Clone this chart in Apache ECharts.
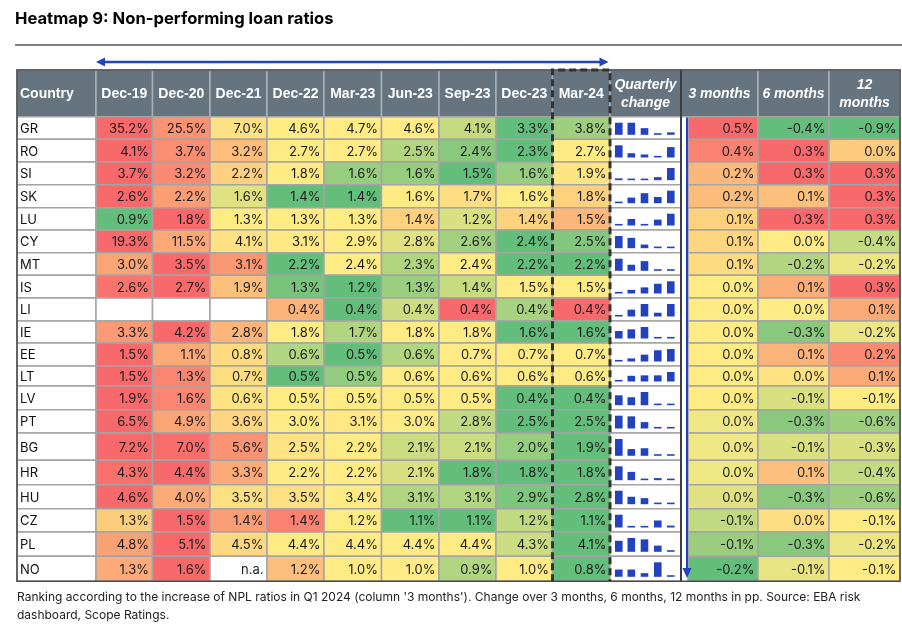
<!DOCTYPE html>
<html><head><meta charset="utf-8">
<script src="https://cdn.jsdelivr.net/npm/echarts@6/dist/echarts.min.js"></script>
<style>html,body{margin:0;padding:0;background:#fff}#c{width:902px;height:628px}</style>
</head><body><div id="c"></div>
<script>
// ---------------- DATA ----------------
const countries = ['GR','RO','SI','SK','LU','CY','MT','IS','LI','IE','EE','LT','LV','PT','BG','HR','HU','CZ','PL','NO'];
const periods = ['Dec-19','Dec-20','Dec-21','Dec-22','Mar-23','Jun-23','Sep-23','Dec-23','Mar-24'];
const dec19 = [35.2, 4.1, 3.7, 2.6, 0.9, 19.3, 3.0, 2.6, null, 3.3, 1.5, 1.5, 1.9, 6.5, 7.2, 4.3, 4.6, 1.27, 4.8, 1.3];
const dec20 = [25.5, 3.7, 3.2, 2.2, 1.8, 11.5, 3.5, 2.7, null, 4.2, 1.1, 1.3, 1.6, 4.9, 7.0, 4.4, 4.0, 1.5, 5.1, 1.6];
const dec21 = [7.0, 3.2, 2.2, 1.56, 1.3, 4.1, 3.1, 1.9, null, 2.8, 0.8, 0.7, 0.6, 3.6, 5.6, 3.3, 3.5, 1.38, 4.5, 'n.a.'];
const dec22 = [4.6, 2.7, 1.8, 1.4, 1.3, 3.1, 2.2, 1.26, 0.42, 1.8, 0.6, 0.5, 0.5, 3.0, 2.5, 2.2, 3.5, 1.44, 4.4, 1.2];
const mar23 = [4.7, 2.7, 1.6, 1.4, 1.3, 2.9, 2.4, 1.22, 0.36, 1.7, 0.5, 0.53, 0.5, 3.1, 2.2, 2.2, 3.4, 1.2, 4.4, 1.0];
const jun23 = [4.6, 2.5, 1.6, 1.6, 1.4, 2.8, 2.3, 1.32, 0.39, 1.8, 0.6, 0.6, 0.5, 3.0, 2.1, 2.1, 3.1, 1.1, 4.4, 1.0];
const sep23 = [4.1, 2.4, 1.5, 1.7, 1.2, 2.6, 2.4, 1.4, 0.44, 1.8, 0.7, 0.6, 0.5, 2.8, 2.1, 1.8, 3.1, 1.1, 4.4, 0.9];
const dec23 = [3.3, 2.3, 1.6, 1.6, 1.4, 2.4, 2.2, 1.5, 0.38, 1.6, 0.7, 0.6, 0.4, 2.5, 2.0, 1.8, 2.9, 1.16, 4.3, 1.0];
const mar24 = [3.8, 2.7, 1.9, 1.8, 1.5, 2.5, 2.2, 1.5, 0.44, 1.6, 0.7, 0.6, 0.4, 2.5, 1.9, 1.8, 2.8, 1.1, 4.1, 0.8];
// change in pp
const change3m  = [0.5, 0.4, 0.2, 0.18, 0.1, 0.08, 0.06, 0.0, 0.0, 0.0, 0.0, 0.0, 0.0, -0.02, -0.02, -0.02, -0.04, -0.08, -0.13, -0.2];
const change6m  = [-0.4, 0.3, 0.3, 0.1, 0.3, 0.0, -0.2, 0.14, 0.0, -0.3, 0.13, 0.02, -0.1, -0.3, -0.1, 0.1, -0.3, 0.03, -0.3, -0.06];
const change12m = [-0.9, 0.0, 0.3, 0.3, 0.3, -0.4, -0.2, 0.3, 0.1, -0.2, 0.2, 0.1, -0.1, -0.6, -0.3, -0.4, -0.6, -0.1, -0.2, -0.1];
const changeLabels = ['3 months', '6 months', '12\nmonths'];
// quarterly change sparkline (relative bar heights)
const quarterlyChange = [
  [1, 1, 0.55, 0.04, 0.2],
  [1, 0.35, 0.25, 0.04, 0.85],
  [0.15, 0.04, 0.04, 0.25, 1],
  [0.05, 0.45, 0.8, 0.5, 1],
  [0.12, 0.55, 0.04, 0.5, 1],
  [1, 0.85, 0.3, 0.04, 0.12],
  [1, 0.5, 0.8, 0.08, 0.12],
  [0.05, 0.3, 0.5, 0.8, 1],
  [0.04, 0.55, 1, 0.3, 1],
  [0.65, 0.8, 1, 0.04, 0.04],
  [0.05, 0.25, 0.55, 0.9, 1],
  [0.05, 0.6, 0.65, 0.65, 1],
  [0.75, 0.6, 1, 0.04, 0.08],
  [1, 0.95, 0.5, 0.04, 0.04],
  [1, 0.4, 0.45, 0.04, 0.04],
  [1, 0.6, 0.04, 0.15, 0.04],
  [1, 0.55, 0.45, 0.04, 0.04],
  [1, 0.04, 0.04, 0.55, 0.15],
  [0.8, 1, 0.9, 0.45, 0.04],
  [0.5, 0.5, 0.25, 1, 0.04]
];
const titleText = 'Heatmap 9: Non-performing loan ratios';
const footLines = [
  "Ranking according to the increase of NPL ratios in Q1 2024 (column '3 months'). Change over 3 months, 6 months, 12 months in pp. Source: EBA risk",
  'dashboard, Scope Ratings.'
];

// ---------------- LAYOUT (table units, px from grid origin) ----------------
const colEdges = [0, 79, 135.5, 193, 250, 307, 364.5, 422, 479, 535.5, 593, 664, 741, 812, 883];
const rowEdges = [0, 46.7, 69.3, 92, 114.7, 137.7, 160, 182.7, 205.3, 228, 251, 273, 296, 316, 339.7, 363, 390.3, 414.7, 438.7, 462, 486.3, 511.3];
const sparkCenters = [8.8, 21.3, 34.5, 47.8, 60.8];

const GREEN = [99, 190, 123], YELLOW = [255, 235, 132], RED = [248, 105, 107];
function mix(a, b, t) { return 'rgb(' + a.map((x, i) => Math.round(x + (b[i] - x) * t)).join(',') + ')'; }
function pct50(vals) {
  const s = vals.slice().sort((a, b) => a - b); const p = (s.length - 1) / 2;
  const lo = Math.floor(p), hi = Math.ceil(p); return s[lo] + (s[hi] - s[lo]) * (p - lo);
}
function scale3(v, vals) {
  const mn = Math.min(...vals), mx = Math.max(...vals), md = pct50(vals);
  if (v <= md) return md === mn ? mix(YELLOW, YELLOW, 0) : mix(GREEN, YELLOW, (v - mn) / (md - mn));
  return mx === md ? mix(YELLOW, YELLOW, 0) : mix(YELLOW, RED, (v - md) / (mx - md));
}
function fmt(v) { const r = Math.round(v * 10) / 10; return (r === 0 ? 0 : r).toFixed(1) + '%'; }

const levelCols = [dec19, dec20, dec21, dec22, mar23, jun23, sep23, dec23, mar24];
const changeCols = [change3m, change6m, change12m];

const levelData = [], levelMeta = [];
countries.forEach((cn, r) => {
  const rowVals = levelCols.map(col => col[r]).filter(v => typeof v === 'number');
  levelCols.forEach((col, j) => {
    const v = col[r];
    let fill = '#ffffff', text = '';
    if (typeof v === 'number') { fill = scale3(v, rowVals); text = fmt(v); }
    else if (v === 'n.a.') text = 'n.a.';
    levelData.push([j + 1, r]);
    levelMeta.push({ fill, text });
  });
});
const changeData = [], changeMeta = [];
changeCols.forEach((col, j) => {
  col.forEach((v, r) => {
    changeData.push([11 + j, r]);
    changeMeta.push({ fill: scale3(v, col), text: fmt(v) });
  });
});
const countryData = countries.map((c, r) => [0, r]);
const headerLabels = ['Country'].concat(periods, ['Quarterly\nchange'], changeLabels);
const headerData = headerLabels.map((h, c) => [c, -1]);
const sparkData = [];
quarterlyChange.forEach((arr, r) => arr.forEach((v, k) => sparkData.push([r, k, v])));

const GRID = '#a4a4a4';
function cellBox(api, c, r, insetL) {
  const p0 = api.coord([colEdges[c] + (insetL || 0), rowEdges[r + 1]]);
  const p1 = api.coord([colEdges[c + 1], rowEdges[r + 2]]);
  return { x: p0[0], y: p0[1], width: p1[0] - p0[0], height: p1[1] - p0[1] };
}
const numFont = '13px Inter';

const chart = echarts.init(document.getElementById('c'), null, { renderer: 'canvas' });
chart.setOption({
  animation: false,
  title: { text: titleText, left: 15, top: 10, padding: 0, textStyle: { fontFamily: 'Inter', fontWeight: 'bold', fontSize: 16.6, color: '#000' } },
  grid: { left: 17, top: 70, width: 883, height: 511.3 },
  xAxis: { type: 'value', min: 0, max: 883, show: false },
  yAxis: { type: 'value', min: 0, max: 511.3, inverse: true, show: false },
  graphic: [
    { type: 'line', shape: { x1: 15, y1: 45, x2: 902, y2: 45 }, style: { stroke: '#000', lineWidth: 1 } },
    { type: 'text', left: 17, top: 589, style: { text: footLines.join('\n'), font: '12px Inter', fill: '#222', lineHeight: 17.5 } }
  ],
  series: [
    { // header
      type: 'custom', data: headerData, z: 2,
      renderItem: (params, api) => {
        const c = api.value(0);
        const p0 = api.coord([colEdges[c], rowEdges[0]]), p1 = api.coord([colEdges[c + 1], rowEdges[1]]);
        const italic = c >= 10;
        return { type: 'group', children: [
          { type: 'rect', shape: { x: p0[0], y: p0[1], width: p1[0] - p0[0], height: p1[1] - p0[1] }, style: { fill: '#65747f', stroke: '#a9b0b6', lineWidth: 1.5 } },
          { type: 'text', style: { text: headerLabels[c], x: c === 0 ? p0[0] + 3 : (p0[0] + p1[0]) / 2, y: (p0[1] + p1[1]) / 2 + 1,
            align: c === 0 ? 'left' : 'center', verticalAlign: 'middle', fill: '#fff', lineHeight: 18,
            font: (italic ? 'italic ' : '') + 'bold 14px "Liberation Sans", Arial' } }
        ] };
      }
    },
    { // country column
      type: 'custom', data: countryData, z: 2,
      renderItem: (params, api) => {
        const b = cellBox(api, 0, api.value(1));
        return { type: 'group', children: [
          { type: 'rect', shape: b, style: { fill: '#fff', stroke: GRID, lineWidth: 1.5 } },
          { type: 'text', style: { text: countries[api.value(1)], x: b.x + 3, y: b.y + b.height / 2 + 1, verticalAlign: 'middle', font: numFont, fill: '#111' } }
        ] };
      }
    },
    { // NPL levels heatmap
      type: 'custom', data: levelData, z: 2,
      renderItem: (params, api) => {
        const m = levelMeta[params.dataIndex];
        const b = cellBox(api, api.value(0), api.value(1));
        return { type: 'group', children: [
          { type: 'rect', shape: b, style: { fill: m.fill, stroke: GRID, lineWidth: 1.5 } },
          { type: 'text', style: { text: m.text, x: b.x + b.width - 3.5, y: b.y + b.height / 2 + 1, align: 'right', verticalAlign: 'middle', font: numFont, fill: '#1a1a1a' } }
        ] };
      }
    },
    { // sparkline column background
      type: 'custom', data: countryData, z: 2,
      renderItem: (params, api) => {
        const b = cellBox(api, 10, api.value(1));
        return { type: 'rect', shape: b, style: { fill: '#fff', stroke: GRID, lineWidth: 1.5 } };
      }
    },
    { // quarterly change bars
      type: 'custom', data: sparkData, z: 3,
      renderItem: (params, api) => {
        const r = api.value(0), k = api.value(1), v = api.value(2);
        const top = api.coord([colEdges[10] + sparkCenters[k], rowEdges[r + 1]]);
        const bot = api.coord([colEdges[10] + sparkCenters[k], rowEdges[r + 2]]);
        const base = bot[1] - 4.5, maxH = (bot[1] - top[1]) - 10.5;
        const h = Math.max(1.6, v * maxH);
        return { type: 'rect', shape: { x: top[0] - 3.8, y: base - h, width: 7.6, height: h }, style: { fill: '#2342bd' } };
      }
    },
    { // change columns
      type: 'custom', data: changeData, z: 2,
      renderItem: (params, api) => {
        const m = changeMeta[params.dataIndex];
        const c = api.value(0);
        const b = cellBox(api, c, api.value(1), c === 11 ? 7 : 0);
        return { type: 'group', children: [
          { type: 'rect', shape: b, style: { fill: m.fill, stroke: GRID, lineWidth: 1.5 } },
          { type: 'text', style: { text: m.text, x: b.x + b.width - 3.5, y: b.y + b.height / 2 + 1, align: 'right', verticalAlign: 'middle', font: numFont, fill: '#1a1a1a' } }
        ] };
      }
    },
    { // frame, dashed box and arrows
      type: 'custom', data: [[0, 0]], z: 5,
      renderItem: (params, api) => {
        const P = (x, y) => api.coord([x, y]);
        const tl = P(0, 0), br = P(883, 511.3);
        const sepTop = P(colEdges[11], 0), sepBot = P(colEdges[11], 511.3);
        const dx0 = P(colEdges[9], 0), dx1 = P(colEdges[10], 511.3);
        const blue = '#2342bd';
        const aL = P(79, -8), aR = P(591.5, -8);
        const vT = P(670, 47.5), vB = P(670, 508);
        return { type: 'group', children: [
          { type: 'rect', shape: { x: tl[0], y: tl[1], width: br[0] - tl[0], height: br[1] - tl[1] }, style: { fill: null, stroke: '#4a4a4a', lineWidth: 1.5 } },
          { type: 'line', shape: { x1: sepTop[0], y1: sepTop[1], x2: sepBot[0], y2: sepBot[1] }, style: { stroke: '#3d3d3d', lineWidth: 2 } },
          { type: 'polyline', shape: { points: [[dx0[0], dx1[1]], [dx0[0], dx0[1]], [dx1[0], dx0[1]], [dx1[0], dx1[1]]] }, style: { fill: null, stroke: '#333', lineWidth: 3, lineDash: [7, 4] } },
          { type: 'line', shape: { x1: aL[0] + 6, y1: aL[1], x2: aR[0] - 6, y2: aR[1] }, style: { stroke: blue, lineWidth: 2.5 } },
          { type: 'polygon', shape: { points: [[aL[0], aL[1]], [aL[0] + 9, aL[1] - 4.5], [aL[0] + 9, aL[1] + 4.5]] }, style: { fill: blue } },
          { type: 'polygon', shape: { points: [[aR[0], aR[1]], [aR[0] - 9, aR[1] - 4.5], [aR[0] - 9, aR[1] + 4.5]] }, style: { fill: blue } },
          { type: 'line', shape: { x1: vT[0], y1: vT[1], x2: vB[0], y2: vB[1] - 8 }, style: { stroke: blue, lineWidth: 2 } },
          { type: 'polygon', shape: { points: [[vB[0], vB[1]], [vB[0] - 4.5, vB[1] - 10], [vB[0] + 4.5, vB[1] - 10]] }, style: { fill: blue } }
        ] };
      }
    }
  ]
});
</script></body></html>
